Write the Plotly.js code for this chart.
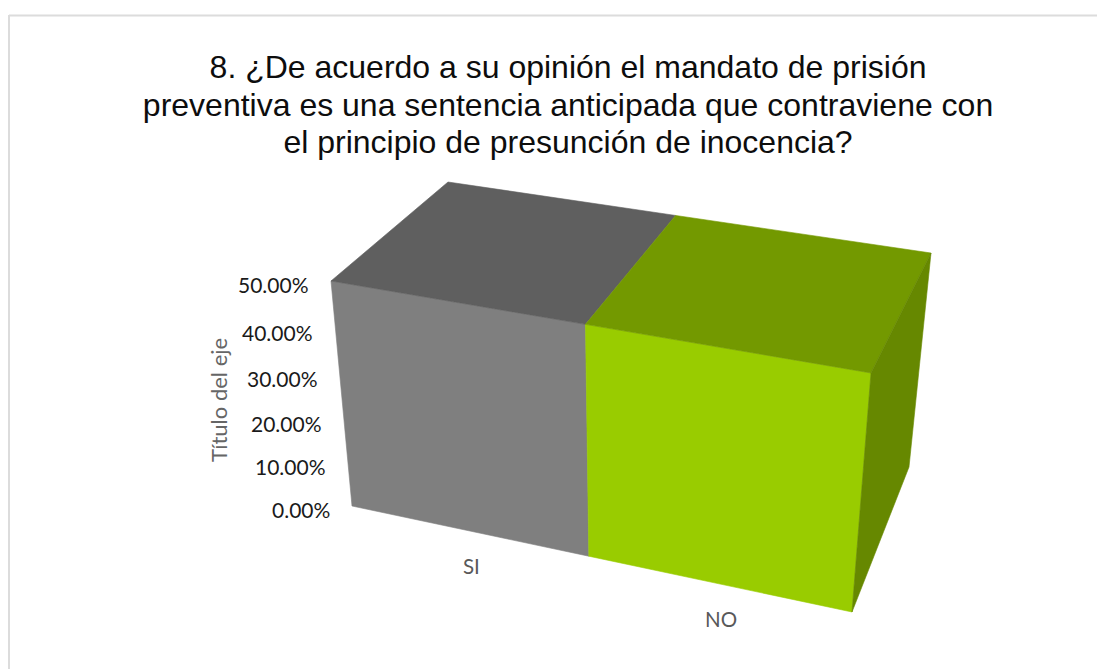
<!DOCTYPE html>
<html><head><meta charset="utf-8">
<script src="https://cdn.plot.ly/plotly-3.0.1.min.js"></script>
<style>html,body{margin:0;padding:0;background:#fff}#c{width:1097px;height:669px}</style>
</head><body><div id="c"></div>
<script>
const categories = ["SI", "NO"];
const values = [0.5, 0.5];
const tickValues = [0, 0.1, 0.2, 0.3, 0.4, 0.5];
const tickLabels = ["0.00%", "10.00%", "20.00%", "30.00%", "40.00%", "50.00%"];
const titleText = "8. ¿De acuerdo a su opinión el mandato de prisión<br>preventiva es una sentencia anticipada que contraviene con<br>el principio de presunción de inocencia?";
const yTitle = "Título del eje";
const frontColors = ["#7f7f7f", "#99cc00"];
const topColors = ["#5f5f5f", "#739900"];
const sideColors = ["#5f5f5f", "#668800"];

// perspective frame of the 3D plot box: [category pos, value/max, depth]
const frame = {
  "000": [352, 506], "100": [852, 612], "010": [331, 281], "110": [871, 373],
  "001": [468, 410], "101": [909, 467], "011": [448, 182], "111": [931, 253]
};
const axisMax = 0.5, wu = -0.1, wv = -0.08;
function project(u, v, d) {
  let X = 0, Y = 0, W = 0;
  for (const a of [0, 1]) for (const b of [0, 1]) for (const c of [0, 1]) {
    const k = (a ? u : 1 - u) * (b ? v : 1 - v) * (c ? d : 1 - d);
    const w = 1 + wu * a + wv * b;
    const p = frame["" + a + b + c];
    X += k * w * p[0]; Y += k * w * p[1]; W += k * w;
  }
  return [X / W, Y / W];
}
function face(pts, color, name) {
  const q = pts.map(p => project(p[0], p[1], p[2]));
  q.push(q[0]);
  return {x: q.map(p => p[0]), y: q.map(p => p[1]), mode: "lines", fill: "toself", fillcolor: color,
          line: {color: color, width: 0.6}, name: name, hoverinfo: "name", showlegend: false};
}
const n = categories.length, traces = [];
categories.forEach((cat, i) => {
  const u0 = i / n, u1 = (i + 1) / n, h = values[i] / axisMax;
  traces.push(face([[u0,0,0],[u1,0,0],[u1,h,0],[u0,h,0]], frontColors[i], cat));
  traces.push(face([[u0,h,0],[u1,h,0],[u1,h,1],[u0,h,1]], topColors[i], cat));
  if (i === n - 1) traces.push(face([[u1,0,0],[u1,0,1],[u1,h,1],[u1,h,0]], sideColors[i], cat));
});

const tickFont = {family: "Lato, Carlito, sans-serif", size: 21, color: "#1a1a1a"};
const annotations = [];
tickValues.forEach((t, i) => {
  const p = project(0, t / axisMax, 0);
  annotations.push({x: p[0] - 20, y: p[1] + 3, xref: "x", yref: "y", text: tickLabels[i], showarrow: false,
    xanchor: "right", yanchor: "middle", font: tickFont});
});
categories.forEach((cat, i) => {
  const p = project((i + 0.5) / n, 0, 0);
  annotations.push({x: p[0] + 4, y: p[1] + 36, xref: "x", yref: "y", text: cat, showarrow: false,
    xanchor: "center", yanchor: "middle", font: {family: tickFont.family, size: 20.5, color: "#595959"}});
});
annotations.push({x: 218, y: 400, xref: "x", yref: "y", text: yTitle, showarrow: false, textangle: -90,
  xanchor: "center", yanchor: "middle", font: {family: tickFont.family, size: 22, color: "#666666"}});

const layout = {
  width: 1097, height: 669, margin: {l: 0, r: 0, t: 0, b: 0},
  paper_bgcolor: "#fff", plot_bgcolor: "#fff", showlegend: false,
  title: {text: titleText, x: 0.5178, xanchor: "center", y: 0.883, yanchor: "top",
          font: {family: "Liberation Sans, Arial, sans-serif", size: 32, color: "#0d0d0d"}},
  xaxis: {range: [0, 1097], visible: false, fixedrange: true},
  yaxis: {range: [669, 0], visible: false, fixedrange: true},
  shapes: [
    {type: "line", xref: "x", yref: "y", x0: 9, y0: 15.5, x1: 1097, y1: 15.5, line: {color: "#dcdcdc", width: 2}},
    {type: "line", xref: "x", yref: "y", x0: 9, y0: 15, x1: 9, y1: 669, line: {color: "#dcdcdc", width: 2}}
  ],
  annotations: annotations
};
Plotly.newPlot("c", traces, layout, {displayModeBar: false, staticPlot: true}).then(() => {
  document.querySelectorAll("#c .gtitle tspan.line").forEach((t, i) => t.setAttribute("dy", (i * 37.5) + "px"));
});
</script></body></html>
